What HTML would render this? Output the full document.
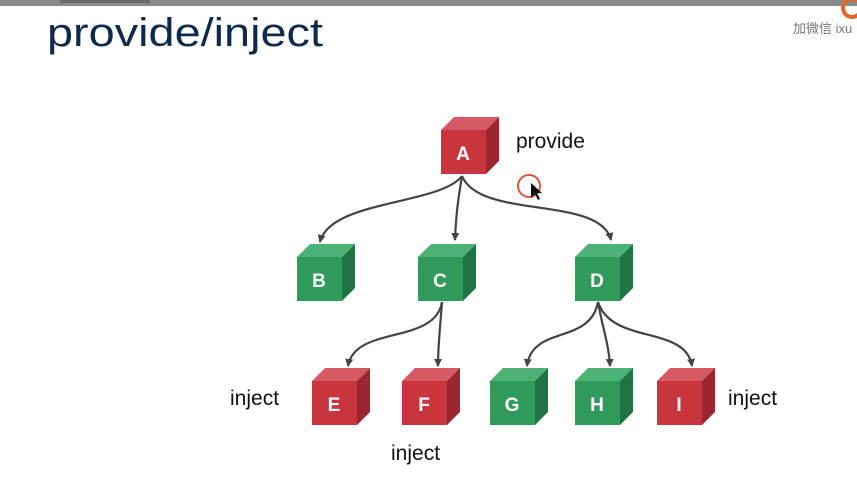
<!DOCTYPE html>
<html><head><meta charset="utf-8"><style>
html,body{margin:0;padding:0;background:#fff;width:857px;height:490px;overflow:hidden}
</style></head><body>
<svg width="857" height="490" viewBox="0 0 857 490" xmlns="http://www.w3.org/2000/svg" font-family="Liberation Sans, sans-serif">
<defs>
<marker id="ar" markerWidth="9" markerHeight="9" refX="7" refY="4.5" orient="auto" markerUnits="userSpaceOnUse">
<path d="M0,0.5 L8,4.5 L0,8.5 Z" fill="#444"/>
</marker>
</defs>
<rect x="0" y="0" width="857" height="6" fill="#8a8a8a"/>
<rect x="60" y="0" width="90" height="3" fill="#6a6a6a"/>
<text x="47" y="46" font-size="40" fill="#0f2a4a" textLength="276" lengthAdjust="spacingAndGlyphs">provide/inject</text>
<text x="793" y="33" font-size="13" fill="#777">加微信 ixu</text>
<circle cx="852" cy="8" r="9" fill="none" stroke="#e0662a" stroke-width="4"/>

<g fill="none" stroke="#444" stroke-width="2.2">
<path d="M462,176 C440,205 330,200 320,242" marker-end="url(#ar)"/>
<path d="M462,176 C458,200 456,215 455,240" marker-end="url(#ar)"/>
<path d="M462,176 C480,220 600,195 611,240" marker-end="url(#ar)"/>
<path d="M442,302 C435,345 355,325 348,366" marker-end="url(#ar)"/>
<path d="M442,302 C440,330 438,345 438,366" marker-end="url(#ar)"/>
<path d="M598,302 C590,345 532,325 527,366" marker-end="url(#ar)"/>
<path d="M598,302 C603,330 609,345 610,366" marker-end="url(#ar)"/>
<path d="M598,302 C612,345 686,325 692,366" marker-end="url(#ar)"/>
</g>
<circle cx="529" cy="186" r="11" fill="none" stroke="#d9553f" stroke-width="2"/>
<path d="M531,183 L531,198 L535,194 L538,200 L540,199 L537,193 L542,193 Z" fill="#111"/>

<g font-weight="bold" font-size="19" fill="#fff" text-anchor="middle">
<g>
<polygon points="441,130 454,117 499,117 486,130" fill="#d65a63"/>
<polygon points="486,130 499,117 499,161 486,174" fill="#9c2630"/>
<rect x="441" y="130" width="45" height="44" fill="#c9353f"/>
<text x="463" y="160">A</text>
</g>
<g>
<polygon points="297,257 310,244 355,244 342,257" fill="#4cb276"/>
<polygon points="342,257 355,244 355,288 342,301" fill="#1f7443"/>
<rect x="297" y="257" width="45" height="44" fill="#2f9a5a"/>
<text x="319" y="287">B</text>
</g>
<g>
<polygon points="418,257 431,244 476,244 463,257" fill="#4cb276"/>
<polygon points="463,257 476,244 476,288 463,301" fill="#1f7443"/>
<rect x="418" y="257" width="45" height="44" fill="#2f9a5a"/>
<text x="440" y="287">C</text>
</g>
<g>
<polygon points="575,257 588,244 633,244 620,257" fill="#4cb276"/>
<polygon points="620,257 633,244 633,288 620,301" fill="#1f7443"/>
<rect x="575" y="257" width="45" height="44" fill="#2f9a5a"/>
<text x="597" y="287">D</text>
</g>
<g>
<polygon points="312,381 325,368 370,368 357,381" fill="#d65a63"/>
<polygon points="357,381 370,368 370,412 357,425" fill="#9c2630"/>
<rect x="312" y="381" width="45" height="44" fill="#c9353f"/>
<text x="334" y="411">E</text>
</g>
<g>
<polygon points="402,381 415,368 460,368 447,381" fill="#d65a63"/>
<polygon points="447,381 460,368 460,412 447,425" fill="#9c2630"/>
<rect x="402" y="381" width="45" height="44" fill="#c9353f"/>
<text x="424" y="411">F</text>
</g>
<g>
<polygon points="490,381 503,368 548,368 535,381" fill="#4cb276"/>
<polygon points="535,381 548,368 548,412 535,425" fill="#1f7443"/>
<rect x="490" y="381" width="45" height="44" fill="#2f9a5a"/>
<text x="512" y="411">G</text>
</g>
<g>
<polygon points="575,381 588,368 633,368 620,381" fill="#4cb276"/>
<polygon points="620,381 633,368 633,412 620,425" fill="#1f7443"/>
<rect x="575" y="381" width="45" height="44" fill="#2f9a5a"/>
<text x="597" y="411">H</text>
</g>
<g>
<polygon points="657,381 670,368 715,368 702,381" fill="#d65a63"/>
<polygon points="702,381 715,368 715,412 702,425" fill="#9c2630"/>
<rect x="657" y="381" width="45" height="44" fill="#c9353f"/>
<text x="679" y="411">I</text>
</g>
</g>

<g font-size="21" fill="#111">
<text x="516" y="148">provide</text>
<text x="230" y="405">inject</text>
<text x="391" y="460">inject</text>
<text x="728" y="405">inject</text>
</g>
</svg>
</body></html>
